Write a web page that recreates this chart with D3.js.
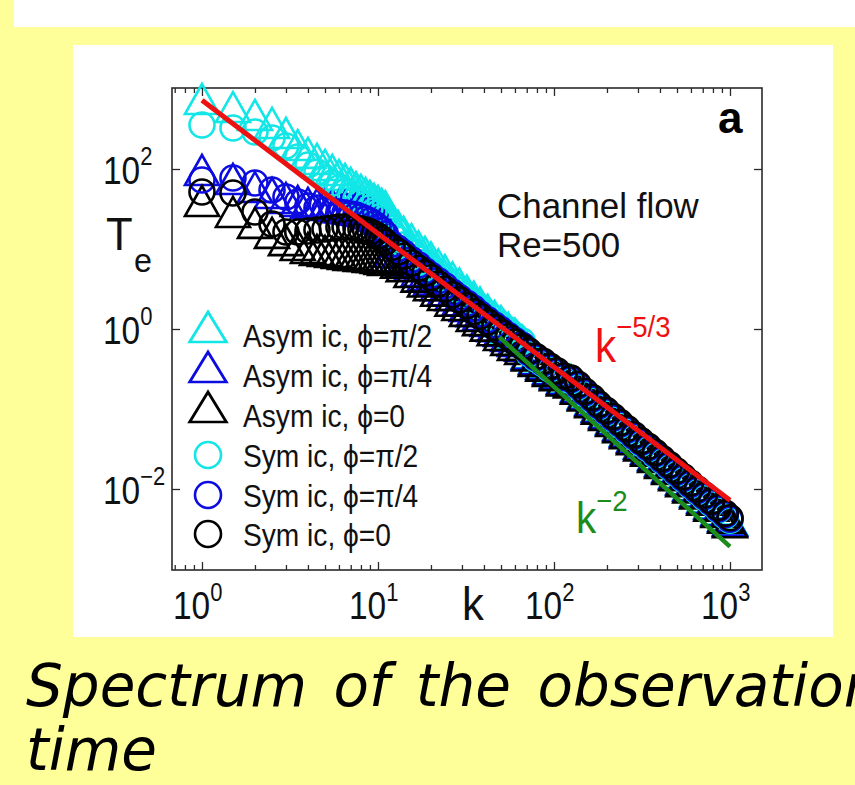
<!DOCTYPE html>
<html>
<head>
<meta charset="utf-8">
<script src="https://cdn.jsdelivr.net/npm/d3@7"></script>
<style>
  html, body { margin: 0; padding: 0; background: #ffff99; }
  svg { display: block; }
</style>
</head>
<body>
<svg id="chart" width="855" height="785"></svg>
<script>
// ---------------- DATA ----------------
const kLow = [1, 1.5, 2, 2.5, 3, 3.5, 4, 4.5, 5, 5.5, 6, 6.5, 7, 7.5, 8, 8.5, 9, 9.5, 10, 10.5, 11];
const kHigh = [12, 13, 14, 15.5, 17, 18.5, 20, 22, 24, 26.5, 29, 32, 35, 38, 42, 46, 50, 55, 60, 66,
  72, 79, 87, 95, 104, 114, 125, 137, 150, 165, 180, 198, 217, 238, 260, 285, 313, 343, 376, 412,
  452, 495, 543, 595, 652, 715, 784, 860, 940, 1000];
const kValues = kLow.concat(kHigh);

// Asym ic, phi = pi/2 (cyan triangles)
const asymHalfPi = [708, 562, 447, 355, 266, 188, 150, 126, 106, 91.7, 79.4, 70.8, 63.1, 56.2, 51.6, 47.3, 43.4, 39.8, 37.6, 34.5, 32.5,
  20.9, 18.4, 15.5, 12.5, 10.2, 8.68, 7.43, 6.07, 5.12, 4.16, 3.50, 2.84, 2.39, 2.03, 1.64, 1.38, 1.18, 0.974, 0.826, 0.671,
  0.472, 0.404, 0.352, 0.303, 0.268, 0.230, 0.216, 0.182, 0.149, 0.124, 0.102, 0.0856, 0.0717, 0.0601, 0.0506, 0.0425, 0.0355, 0.0304, 0.0255, 0.0214,
  0.0180, 0.0150, 0.0126, 0.0106, 0.00890, 0.00747, 0.00627, 0.00522, 0.00441, 0.00389];
// Asym ic, phi = pi/4 (blue triangles)
const asymQuarterPi = [91.7, 70.8, 56.2, 47.3, 41.0, 37.6, 35.5, 34.5, 33.5, 33.5, 32.5, 32.5, 31.6, 30.7, 29.9, 28.2, 26.6, 24.4, 22.4, 20.5, 18.3,
  8.73, 7.67, 6.76, 5.84, 5.00, 4.45, 3.91, 3.33, 2.88, 2.50, 2.15, 1.83, 1.58, 1.41, 1.19, 1.02, 0.890, 0.774, 0.670, 0.584,
  0.461, 0.395, 0.345, 0.297, 0.262, 0.224, 0.211, 0.177, 0.145, 0.121, 0.100, 0.0837, 0.0701, 0.0587, 0.0495, 0.0415, 0.0347, 0.0298, 0.0250, 0.0210,
  0.0176, 0.0147, 0.0124, 0.0104, 0.00870, 0.00730, 0.00612, 0.00511, 0.00432, 0.00380];
// Asym ic, phi = 0 (black triangles)
const asymZero = [37.6, 27.4, 20.0, 15.0, 12.2, 10.6, 9.72, 9.17, 8.91, 8.66, 8.41, 8.18, 7.94, 7.94, 7.72, 7.72, 7.50, 7.50, 7.29, 7.08, 6.88,
  7.26, 6.37, 5.76, 4.86, 4.26, 3.70, 3.33, 2.84, 2.51, 2.13, 1.88, 1.59, 1.37, 1.22, 1.04, 0.911, 0.793, 0.691, 0.597, 0.533,
  0.440, 0.377, 0.329, 0.283, 0.250, 0.214, 0.202, 0.169, 0.139, 0.115, 0.0955, 0.0798, 0.0669, 0.0560, 0.0472, 0.0396, 0.0331, 0.0284, 0.0238, 0.0200,
  0.0168, 0.0140, 0.0118, 0.00988, 0.00830, 0.00696, 0.00584, 0.00487, 0.00412, 0.00363];
// Sym ic, phi = pi/2 (cyan circles)
const symHalfPi = [355, 325, 290, 244, 194, 141, 112, 91.7, 77.2, 66.8, 57.9, 51.6, 46.0, 42.2, 38.7, 35.5, 32.5, 29.9, 28.2, 25.9, 24.4,
  15.2, 13.3, 11.2, 9.48, 7.92, 6.89, 5.90, 5.04, 4.27, 3.62, 3.05, 2.59, 2.17, 1.89, 1.57, 1.35, 1.14, 0.974, 0.826, 0.705,
  0.493, 0.422, 0.368, 0.317, 0.280, 0.240, 0.226, 0.190, 0.155, 0.129, 0.107, 0.0895, 0.0750, 0.0628, 0.0529, 0.0444, 0.0371, 0.0318, 0.0267, 0.0224,
  0.0188, 0.0157, 0.0132, 0.0111, 0.00930, 0.00780, 0.00655, 0.00546, 0.00461, 0.00406];
// Sym ic, phi = pi/4 (blue circles)
const symQuarterPi = [72.9, 77.2, 66.8, 54.6, 44.7, 38.7, 34.5, 32.5, 30.7, 29.9, 29.0, 28.2, 27.4, 26.6, 25.1, 23.7, 22.4, 20.5, 18.8, 17.3, 15.4,
  11.5, 10.1, 8.91, 7.35, 6.29, 5.35, 4.70, 4.01, 3.47, 2.87, 2.47, 2.10, 1.81, 1.54, 1.30, 1.12, 0.976, 0.830, 0.718, 0.626,
  0.509, 0.436, 0.380, 0.327, 0.289, 0.248, 0.233, 0.196, 0.160, 0.133, 0.110, 0.0924, 0.0774, 0.0648, 0.0546, 0.0458, 0.0383, 0.0328, 0.0276, 0.0231,
  0.0194, 0.0162, 0.0136, 0.0114, 0.00960, 0.00805, 0.00676, 0.00564, 0.00476, 0.00420];
// Sym ic, phi = 0 (black circles)
const symZero = [51.6, 50.1, 29.0, 20.5, 16.3, 16.3, 16.8, 17.3, 17.8, 18.3, 18.8, 18.8, 18.8, 18.3, 17.8, 17.3, 16.3, 15.4, 14.5, 13.3, 12.2,
  10.5, 9.21, 8.13, 6.70, 5.74, 4.99, 4.38, 3.66, 3.16, 2.68, 2.31, 1.96, 1.65, 1.44, 1.22, 1.05, 0.911, 0.793, 0.685, 0.598,
  0.530, 0.454, 0.396, 0.341, 0.301, 0.258, 0.243, 0.204, 0.167, 0.139, 0.115, 0.0962, 0.0806, 0.0675, 0.0569, 0.0477, 0.0399, 0.0342, 0.0287, 0.0241,
  0.0202, 0.0169, 0.0142, 0.0119, 0.0100, 0.00839, 0.00704, 0.00587, 0.00496, 0.00437];

// reference power laws (end points)
const fiveThirdsK = [1, 1000];
const fiveThirdsT = [724, 0.00724];
const minusTwoK = [49, 1000];
const minusTwoT = [0.79, 0.0019];

const seriesNames = ["Asym ic, \u03D5=\u03C0/2", "Asym ic, \u03D5=\u03C0/4", "Asym ic, \u03D5=0",
                     "Sym ic, \u03D5=\u03C0/2", "Sym ic, \u03D5=\u03C0/4", "Sym ic, \u03D5=0"];
const xTickValues = [1, 10, 100, 1000];
const xTickExps = ["0", "1", "2", "3"];
const yTickValues = [0.01, 1, 100];
const yTickExps = ["\u22122", "0", "2"];

// ---------------- DRAWING ----------------
const FONT = "'Liberation Sans', Arial, Helvetica, sans-serif";
const CYAN = "#12e6e6", BLUE = "#0c0ce0", BLACK = "#000000";
const svg = d3.select("#chart");

// slide background
svg.append("rect").attr("width", 855).attr("height", 785).attr("fill", "#ffff99");
svg.append("rect").attr("x", 14).attr("y", 0).attr("width", 841).attr("height", 27).attr("fill", "#ffffff");
svg.append("rect").attr("x", 73).attr("y", 45).attr("width", 760).attr("height", 592).attr("fill", "#ffffff");

const x = d3.scaleLog().domain([0.6755, 1520]).range([172, 762]);
const y = d3.scaleLog().domain([Math.pow(10, -3.0125), Math.pow(10, 3.0125)]).range([570, 88]);

// helper: text with a slight horizontal condensing, like the original figure font
function label(px, py, fs, sx) {
  return svg.append("text")
    .attr("transform", `translate(${px},${py}) scale(${sx},1)`)
    .attr("font-family", FONT).attr("font-size", fs).attr("fill", "#111");
}

// axes
const xMinor = [];
[0.1, 1, 10, 100].forEach(d => { for (let m = 2; m <= 9; m++) { const v = d * m; if (v >= x.domain()[0] && v <= x.domain()[1]) xMinor.push(v); } });
const axColor = "#2a2a2a";
function styleAxis(g) {
  g.select(".domain").remove();
  g.selectAll(".tick line").attr("stroke", axColor).attr("stroke-width", 1.3);
  g.selectAll(".tick text").remove();
}
svg.append("g").attr("transform", "translate(0,570)").call(d3.axisBottom(x).tickValues(xTickValues).tickSize(-8).tickFormat("")).call(styleAxis);
svg.append("g").attr("transform", "translate(0,570)").call(d3.axisBottom(x).tickValues(xMinor).tickSize(-5).tickFormat("")).call(styleAxis);
svg.append("g").attr("transform", "translate(0,88)").call(d3.axisTop(x).tickValues(xTickValues).tickSize(-8).tickFormat("")).call(styleAxis);
svg.append("g").attr("transform", "translate(0,88)").call(d3.axisTop(x).tickValues(xMinor).tickSize(-5).tickFormat("")).call(styleAxis);
svg.append("g").attr("transform", "translate(172,0)").call(d3.axisLeft(y).tickValues(yTickValues).tickSize(-8).tickFormat("")).call(styleAxis);
svg.append("g").attr("transform", "translate(762,0)").call(d3.axisRight(y).tickValues(yTickValues).tickSize(-8).tickFormat("")).call(styleAxis);
svg.append("rect").attr("x", 172).attr("y", 88).attr("width", 590).attr("height", 482)
  .attr("fill", "none").attr("stroke", axColor).attr("stroke-width", 1.6);

// tick labels
xTickValues.forEach((v, i) => {
  const t = label(x(v) - 29, 619, 38, 0.88);
  t.append("tspan").text("10");
  t.append("tspan").attr("dy", -18).attr("font-size", 25).text(xTickExps[i]);
});
yTickValues.forEach((v, i) => {
  const t = label(103, y(v) + 15, 38, 0.88);
  t.append("tspan").text("10");
  t.append("tspan").attr("dy", -19).attr("font-size", 25).text(yTickExps[i]);
});

// axis labels
label(462, 620, 46, 0.95).text("k");
label(106, 250, 46, 0.95).text("T");
label(134, 272, 34, 0.95).text("e");

// markers
const triPath = "M0,-17L17,13L-17,13Z";
const series = [
  { values: asymHalfPi, color: CYAN, shape: "tri" },
  { values: asymQuarterPi, color: BLUE, shape: "tri" },
  { values: asymZero, color: BLACK, shape: "tri" },
  { values: symHalfPi, color: CYAN, shape: "circ" },
  { values: symQuarterPi, color: BLUE, shape: "circ" },
  { values: symZero, color: BLACK, shape: "circ" }
];
series.forEach(s => {
  const pts = kValues.map((k, i) => ({ k: k, t: s.values[i] }));
  const g = svg.append("g").attr("fill", "none").attr("stroke", s.color).attr("stroke-width", 2.6);
  if (s.shape === "tri") {
    g.selectAll("path").data(pts).join("path").attr("d", triPath)
      .attr("transform", d => `translate(${x(d.k)},${y(d.t)})`);
  } else {
    g.selectAll("circle").data(pts).join("circle")
      .attr("cx", d => x(d.k)).attr("cy", d => y(d.t)).attr("r", 12.5);
  }
});

// power-law lines
const line = d3.line().x(d => x(d.k)).y(d => y(d.t));
svg.append("path").datum(minusTwoK.map((k, i) => ({ k: k, t: minusTwoT[i] })))
  .attr("d", line).attr("stroke", "#1c8c1c").attr("stroke-width", 4.5).attr("fill", "none");
svg.append("path").datum(fiveThirdsK.map((k, i) => ({ k: k, t: fiveThirdsT[i] })))
  .attr("d", line).attr("stroke", "#ee1111").attr("stroke-width", 5).attr("fill", "none");

// annotations
svg.append("text").attr("x", 718).attr("y", 133).attr("font-family", FONT).attr("font-weight", "bold")
  .attr("font-size", 44).attr("fill", "#000").text("a");
label(497, 218, 36, 0.97).text("Channel flow");
label(497, 257, 36, 0.97).text("Re=500");
const r53 = label(595, 362, 46, 0.92).attr("fill", "#ee1111");
r53.append("tspan").text("k");
r53.append("tspan").attr("dy", -25).attr("font-size", 30).text("\u22125/3");
const r2 = label(576, 533, 44, 0.92).attr("fill", "#1c8c1c");
r2.append("tspan").text("k");
r2.append("tspan").attr("dy", -22).attr("font-size", 30).text("\u22122");

// legend
const legendY = [335, 375, 415, 455, 495, 534];
series.forEach((s, i) => {
  const g = svg.append("g").attr("fill", "none").attr("stroke", s.color).attr("stroke-width", 2.6);
  if (s.shape === "tri") g.append("path").attr("d", triPath).attr("transform", `translate(208,${legendY[i] - 6}) scale(1.08,1)`);
  else g.append("circle").attr("cx", 208).attr("cy", legendY[i]).attr("r", 13);
  label(243, legendY[i] + 12, 32, 0.88).text(seriesNames[i]);
});

// slide caption (overflows the slide on the right, as in the original)
svg.append("text").attr("x", 26).attr("y", 706).attr("font-family", "'DejaVu Sans', Verdana, sans-serif")
  .attr("font-style", "italic").attr("font-size", 58).attr("word-spacing", 8).attr("fill", "#000").text("Spectrum of the observation");
svg.append("text").attr("x", 26).attr("y", 770).attr("font-family", "'DejaVu Sans', Verdana, sans-serif")
  .attr("font-style", "italic").attr("font-size", 58).attr("fill", "#000").text("time");
</script>
</body>
</html>
